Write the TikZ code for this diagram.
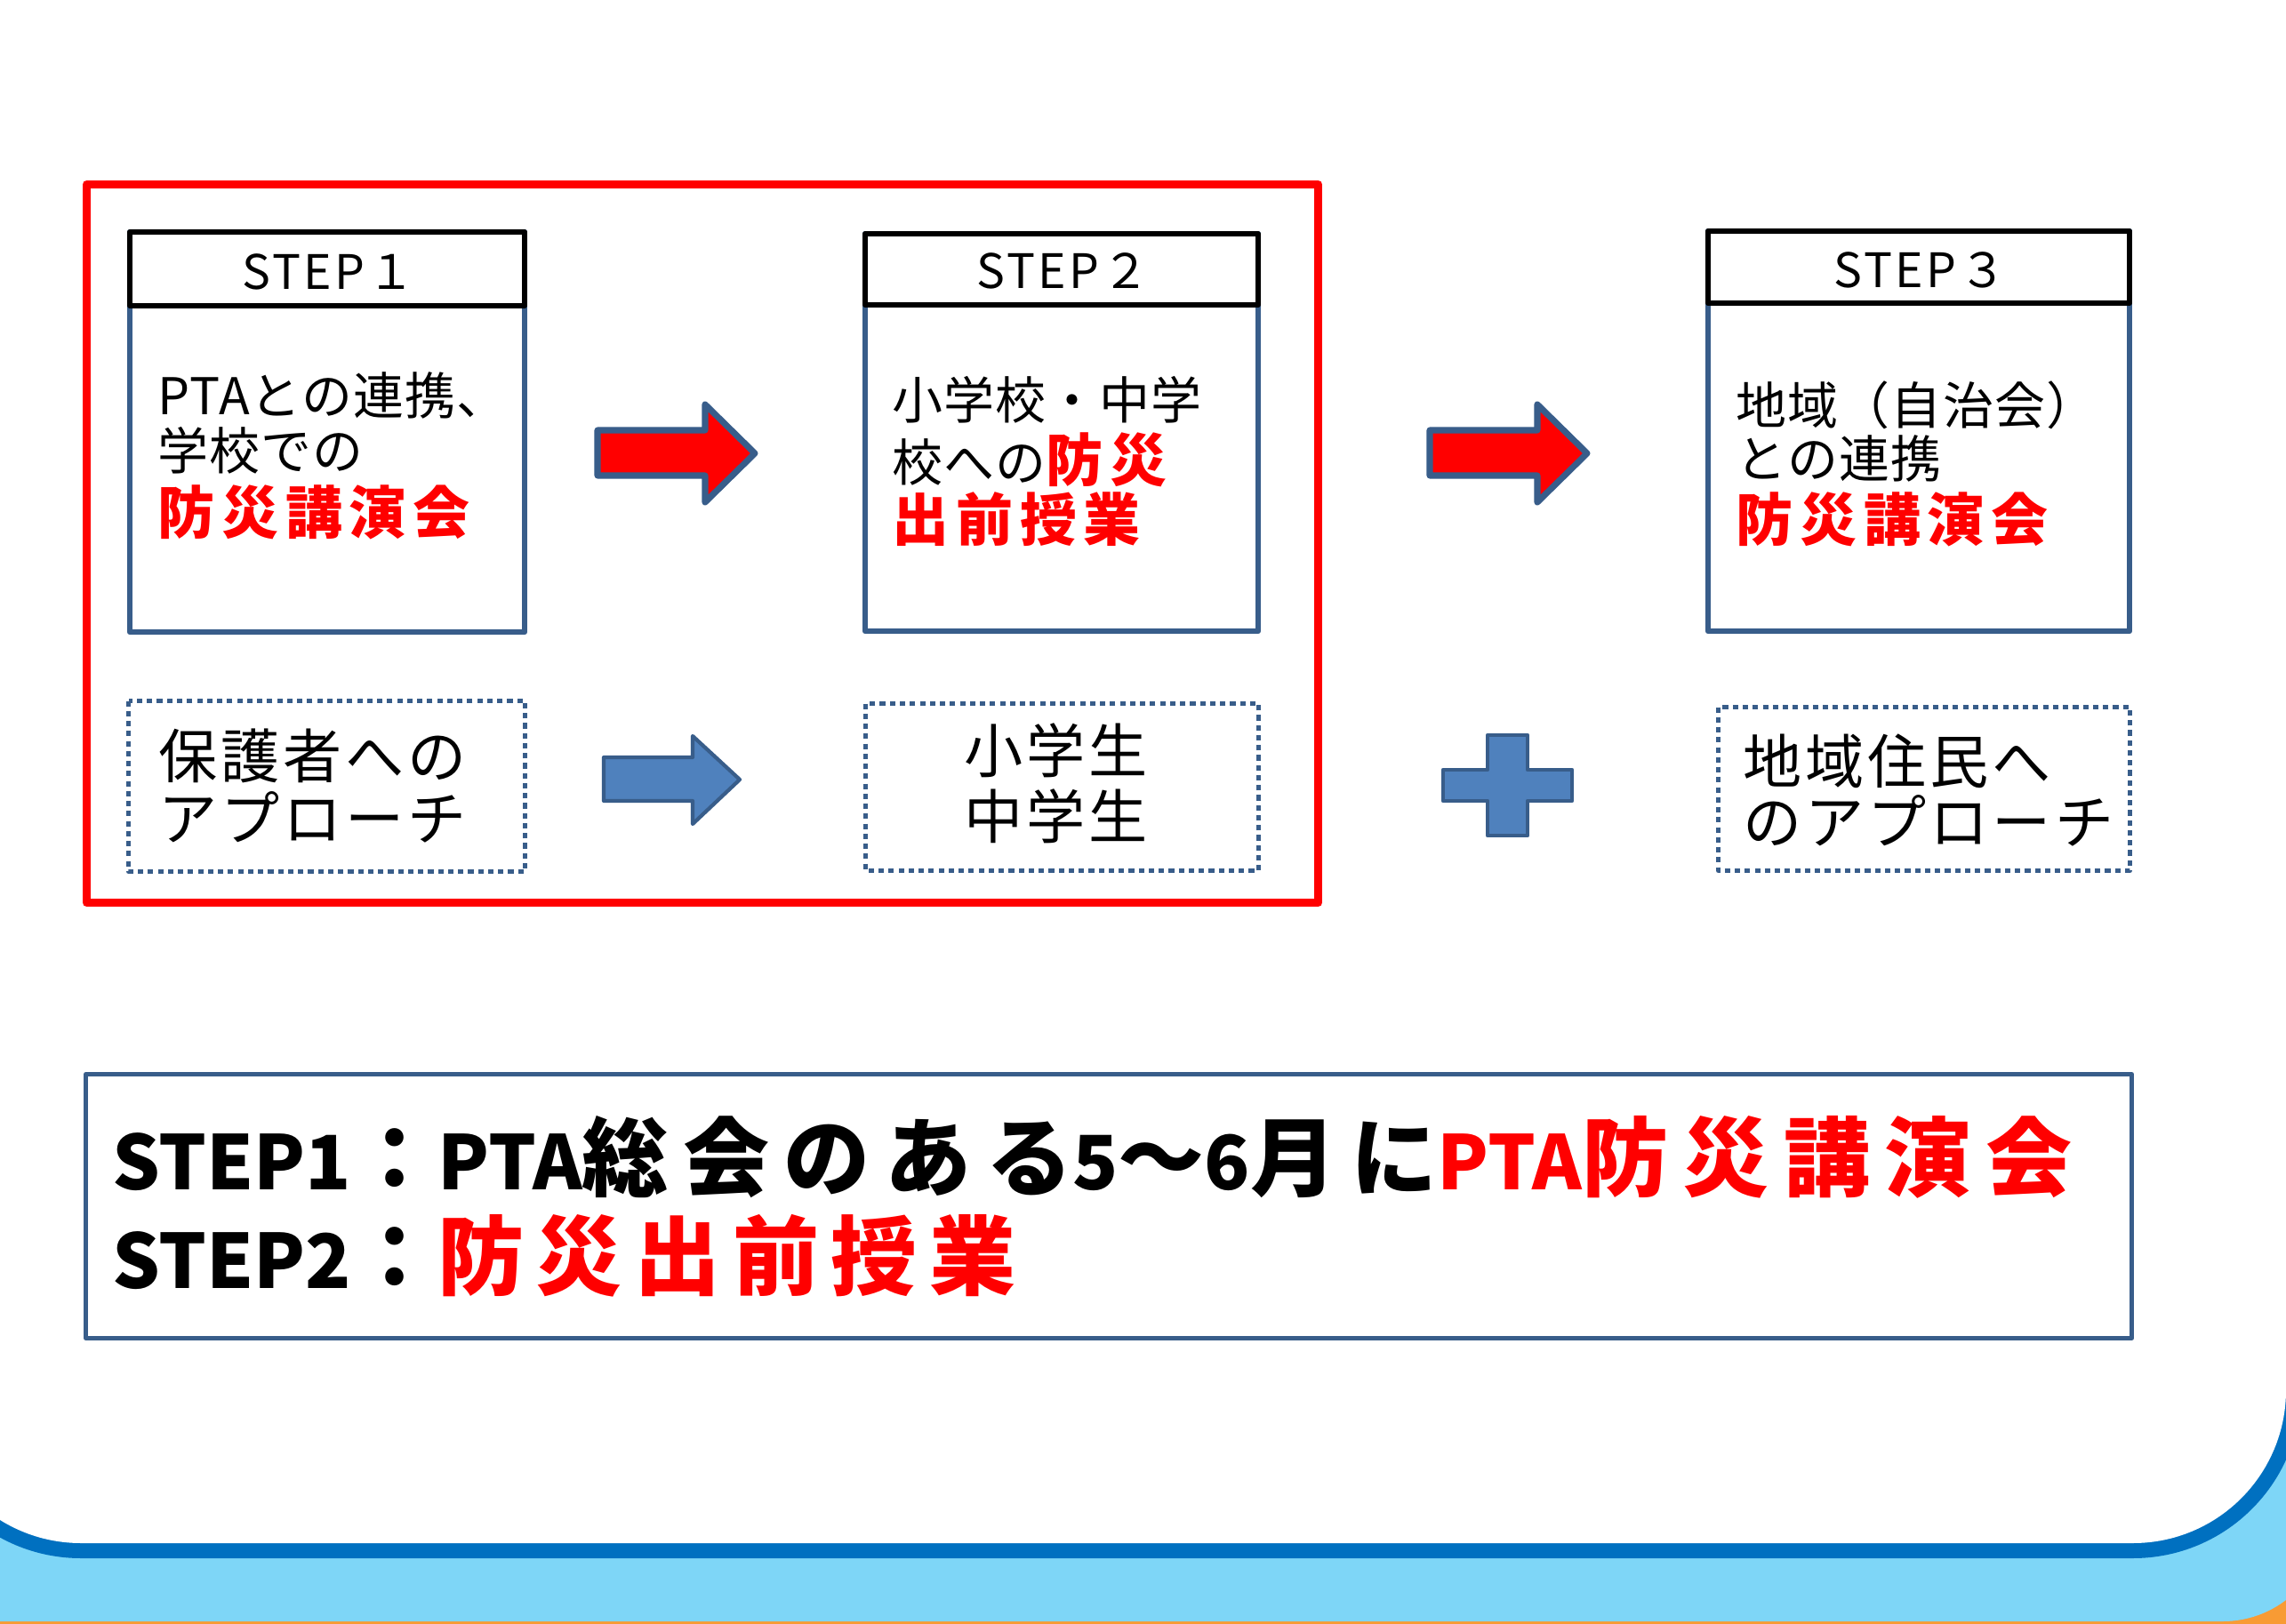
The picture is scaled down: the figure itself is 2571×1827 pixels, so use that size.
\documentclass[tikz,border=0pt]{standalone}
\usepackage{fontspec}
\setmainfont{Noto Sans CJK JP}
\newfontfamily\jp{Noto Sans CJK JP}
\newfontfamily\jpS{Noto Sans CJK JP}[LetterSpace=2]
\newfontfamily\jpM{Noto Sans CJK JP}[LetterSpace=6]
\newfontfamily\jpL{Noto Sans CJK JP}[LetterSpace=17]
\newfontfamily\jpR{Noto Sans CJK JP}[LetterSpace=12]
\newfontfamily\jpRR{Noto Sans CJK JP}[LetterSpace=14]
\definecolor{bx}{HTML}{385D8A}
\definecolor{fb}{HTML}{4F81BD}
\definecolor{band}{HTML}{0070C0}
\definecolor{lb}{HTML}{7ED6F7}
\definecolor{org}{HTML}{F89B34}
\newcommand\redB[1]{{\jpR\bfseries\fontsize{18.2pt}{19pt}\selectfont\color{red}#1}}
\newcommand\lat[1]{{\jp\fontsize{24pt}{30pt}\selectfont #1}}
\tikzset{
  bodybox/.style={draw=bx, line width=1.85pt, fill=white},
  hdrbox/.style={draw=black, line width=1.7pt, fill=white},
  dotbox/.style={draw=bx, line width=1.42pt, dash pattern=on 1.75pt off 1.45pt},
  redarrow/.style={draw=bx, line width=2pt, fill=red},
  bluearrow/.style={draw=bx, line width=1.2pt, fill=fb},
  hdr/.style={font=\jpM\fontsize{15.2pt}{16pt}\selectfont, anchor=base, inner sep=0pt},
  bodyt/.style={font=\jpS\fontsize{16.2pt}{17pt}\selectfont, anchor=base west, inner sep=0pt},
  redt/.style={font=\jpR\bfseries\fontsize{18.2pt}{19pt}\selectfont, text=red, anchor=base west, inner sep=0pt},
  dott/.style={font=\jpM\fontsize{18.8pt}{20pt}\selectfont, anchor=base west, inner sep=0pt},
  bigt/.style={font=\jpL\bfseries\fontsize{27.6pt}{30pt}\selectfont, anchor=base west, inner sep=0pt},
}
\begin{document}
\begin{tikzpicture}[x=0.01cm, y=-0.01cm, line join=round]
\useasboundingbox (0,0) rectangle (2571,1827);
\clip (0,0) rectangle (2571,1827);
% background
\fill[org] (0,1650) rectangle (2571,1827);
\fill[lb, rounded corners=1.17cm] (-300,1500) rectangle (2617,1824);
\fill[band, rounded corners=1.89cm] (-98,-300) rectangle (2588,1753);
\fill[white, rounded corners=1.72cm] (-81,-300) rectangle (2571,1736);

% red frame
\draw[red, line width=2.56pt] (97.5,207.5) rectangle (1482.5,1015.5);

% step boxes
\draw[bodybox] (146,261) rectangle (590,711);
\draw[hdrbox] (146,261) rectangle (590,344);
\draw[bodybox] (973,263) rectangle (1415,710);
\draw[hdrbox] (973,263) rectangle (1415,343);
\draw[bodybox] (1921,260) rectangle (2395,710);
\draw[hdrbox] (1921,260) rectangle (2395,341);

\node[hdr] (h1) at (370,325) {STEP１};
\node[hdr] (h2) at (1196,324) {STEP２};
\node[hdr] (h3) at (2160,323) {STEP３};

% step 1 text
\node[bodyt] (s1a) at (177,466) {PTAとの連携、};
\node[bodyt] (s1b) at (177,528) {学校での};
\node[redt]  (s1c) at (177,600) {防災講演会};
% step 2 text
\node[bodyt] (s2a) at (1003,471) {小学校・中学};
\node[bodyt] (s2b) at (1003,541) {校への\redB{防災}};
\node[redt]  (s2c) at (1003,608) {出前授業};
% step 3 text
\node[bodyt] (s3a) at (1952,477) {地域（自治会）};
\node[bodyt] (s3b) at (1952,537) {との連携};
\node[redt]  (s3c) at (1952,608) {防災講演会};

% red arrows
\draw[redarrow] (672,484) -- (793,484) -- (793,455) -- (849,510) -- (793,565) -- (793,535) -- (672,535) -- cycle;
\draw[redarrow] (1608,484) -- (1729,484) -- (1729,455) -- (1785,510) -- (1729,565) -- (1729,535) -- (1608,535) -- cycle;

% dotted boxes
\draw[dotbox] (144.5,788.5) rectangle (590.5,980.5);
\draw[dotbox] (973.5,791.5) rectangle (1415.5,979.5);
\draw[dotbox] (1932.5,795.5) rectangle (2395.5,979.5);

\node[dott] (d1a) at (178,875) {保護者への};
\node[dott] (d1b) at (178,945) {アプローチ};
\node[dott, anchor=base] (d2a) at (1188,869) {小学生};
\node[dott, anchor=base] (d2b) at (1188,943) {中学生};
\node[dott] (d3a) at (1960,881) {地域住民へ};
\node[dott] (d3b) at (1960,949) {のアプローチ};

% blue arrow
\draw[bluearrow] (679,852) -- (779,852) -- (779,828) -- (832,877) -- (779,927) -- (779,901) -- (679,901) -- cycle;
% plus
\draw[bluearrow] (1673,827) -- (1718,827) -- (1718,866) -- (1768,866) -- (1768,901) -- (1718,901) -- (1718,940) -- (1673,940) -- (1673,901) -- (1623,901) -- (1623,866) -- (1673,866) -- cycle;

% bottom box
\draw[draw=bx, line width=1.42pt] (96.5,1208.5) rectangle (2397.5,1505.5);
\node[bigt] (l1) at (126,1338) {\lat{STEP1}：\lat{PTA}総会のある\lat{5}～\lat{6}月に{\color{red}\lat{PTA}防災講演会}};
\node[bigt] (l2) at (126,1449) {\lat{STEP2}{\jpRR ：}{\color{red}\jpRR 防災出前授業}};
\end{tikzpicture}
\end{document}
